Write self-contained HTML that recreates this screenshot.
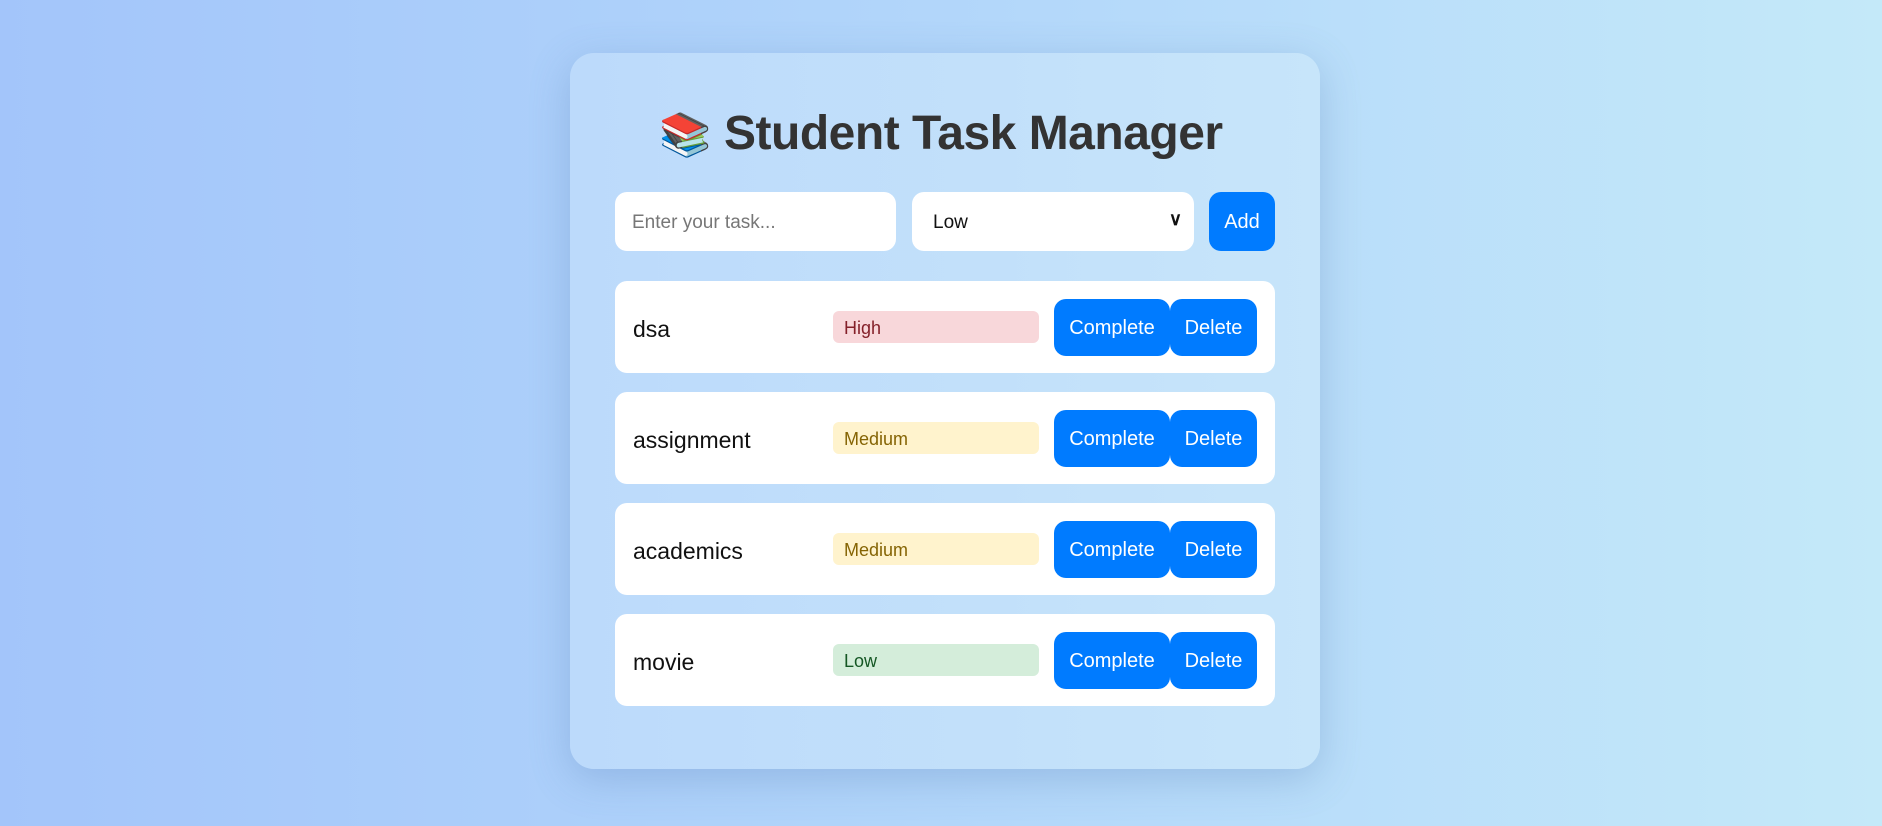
<!DOCTYPE html>
<html><head><meta charset="utf-8"><style>
*{box-sizing:border-box;margin:0;padding:0}
body{width:1882px;height:826px;overflow:hidden;background:linear-gradient(90deg,#a3c5fa 0%,#b2d6fa 50%,#c4e9f9 100%);font-family:"Liberation Sans",sans-serif;position:relative}
.card{position:absolute;left:570px;top:53px;width:750px;height:716px;border-radius:24px;background:linear-gradient(90deg,#bcdafb,#c7e5fa);box-shadow:0 10px 40px rgba(80,120,180,.3)}
h1{position:absolute;left:0;width:100%;top:106px;text-align:center;font-size:48px;font-weight:bold;color:#333;letter-spacing:-0.5px}
.abs{position:absolute}
.inp{background:#fff;border-radius:12px;height:59px;top:192px;font-size:19px;display:flex;align-items:center;padding-left:17px;padding-top:3px}
.btn{background:#007bff;color:#fff;border-radius:12px;display:flex;align-items:center;justify-content:center;font-size:20px;padding-top:2px}
.row{position:absolute;left:615px;width:660px;height:92px;background:#fff;border-radius:12px}
.name{position:absolute;left:18px;top:35px;font-size:23px;color:#111}
.badge{position:absolute;left:218px;top:30px;width:206px;height:32px;border-radius:6px;font-size:18px;padding-left:11px;line-height:34px}
.c{position:absolute;left:439px;top:18px;width:116px;height:57px}
.d{position:absolute;left:555px;top:18px;width:87px;height:57px}
</style></head><body>
<div class="card"></div>
<h1><span style="font-size:42px">📚</span> Student Task Manager</h1>
<div class="abs inp" style="left:615px;width:281px;color:#777">Enter your task...</div>
<div class="abs inp" style="left:912px;width:282px;color:#111;padding-left:21px">Low<span style="position:absolute;right:12px;top:17px;font-size:18px;font-weight:bold">∨</span></div>
<div class="abs btn" style="left:1209px;top:192px;width:66px;height:59px">Add</div>

<div class="row" style="top:281px"><div class="name">dsa</div><div class="badge" style="background:#f8d7da;color:#842029">High</div><div class="btn c">Complete</div><div class="btn d">Delete</div></div>
<div class="row" style="top:392px"><div class="name">assignment</div><div class="badge" style="background:#fff3cd;color:#856404">Medium</div><div class="btn c">Complete</div><div class="btn d">Delete</div></div>
<div class="row" style="top:503px"><div class="name">academics</div><div class="badge" style="background:#fff3cd;color:#856404">Medium</div><div class="btn c">Complete</div><div class="btn d">Delete</div></div>
<div class="row" style="top:614px"><div class="name">movie</div><div class="badge" style="background:#d4edda;color:#155724">Low</div><div class="btn c">Complete</div><div class="btn d">Delete</div></div>
</body></html>
